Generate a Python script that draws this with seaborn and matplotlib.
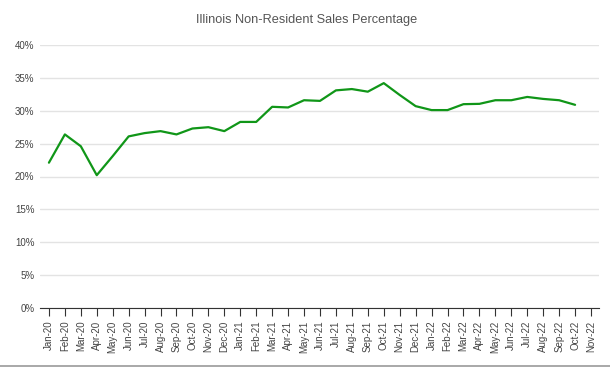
import matplotlib
matplotlib.use("Agg")
import matplotlib.pyplot as plt
import seaborn as sns
import pandas as pd
from matplotlib.lines import Line2D
from matplotlib.ticker import FuncFormatter

# months on the axis (Nov-22 has no value yet)
months = ["Jan-20", "Feb-20", "Mar-20", "Apr-20", "May-20", "Jun-20", "Jul-20", "Aug-20",
          "Sep-20", "Oct-20", "Nov-20", "Dec-20", "Jan-21", "Feb-21", "Mar-21", "Apr-21",
          "May-21", "Jun-21", "Jul-21", "Aug-21", "Sep-21", "Oct-21", "Nov-21", "Dec-21",
          "Jan-22", "Feb-22", "Mar-22", "Apr-22", "May-22", "Jun-22", "Jul-22", "Aug-22",
          "Sep-22", "Oct-22", "Nov-22"]

# non-resident share of sales, percent
pct = [22.1, 26.4, 24.6, 20.2, 23.1, 26.1, 26.6, 26.9, 26.4, 27.3, 27.5, 26.9,
       28.3, 28.3, 30.6, 30.5, 31.6, 31.5, 33.1, 33.3, 32.9, 34.2, 32.4, 30.7,
       30.1, 30.1, 31.0, 31.05, 31.6, 31.6, 32.1, 31.8, 31.6, 30.9]

yticks = [0, 5, 10, 15, 20, 25, 30, 35, 40]

df = pd.DataFrame({"idx": range(len(pct)), "pct": pct})

sns.set_style("white")
plt.rcParams["font.family"] = ["Liberation Sans", "DejaVu Sans"]

fig = plt.figure(figsize=(6.1, 3.74), dpi=100)
ax = fig.add_axes([40 / 610, 66 / 374, 559 / 610, 263 / 374])

sns.lineplot(data=df, x="idx", y="pct", color="#109618", linewidth=1.6, ax=ax)

ax.set_xlim(-0.56, len(months) - 0.5)
ax.set_ylim(0, 40)
ax.set_xticks(range(len(months)))
ax.set_xticklabels(months, rotation=90, fontsize=7, color="#444444")
ax.set_yticks(yticks)
ax.yaxis.set_major_formatter(FuncFormatter(lambda v, p: f"{int(v)}%"))
ax.tick_params(axis="y", left=False, length=0, labelsize=7, labelcolor="#444444", pad=4)
ax.tick_params(axis="x", bottom=True, length=6, width=0.8, color="#333333", pad=3,
               direction="out")
ax.grid(axis="y", color="#e3e3e3", linewidth=1)
ax.set_axisbelow(True)
for s in ["left", "right", "top"]:
    ax.spines[s].set_visible(False)
ax.spines["bottom"].set_color("#333333")
ax.spines["bottom"].set_linewidth(0.8)
ax.set_xlabel("")
ax.set_ylabel("")

fig.text(307 / 610, 1 - 20 / 374, "Illinois Non-Resident Sales Percentage",
         ha="center", va="center", fontsize=9.2, color="#555555")

fig.add_artist(Line2D([0, 1], [1 - 366 / 374] * 2, transform=fig.transFigure,
                      color="#999999", linewidth=1.2))

fig.savefig("out.png", dpi=100)
